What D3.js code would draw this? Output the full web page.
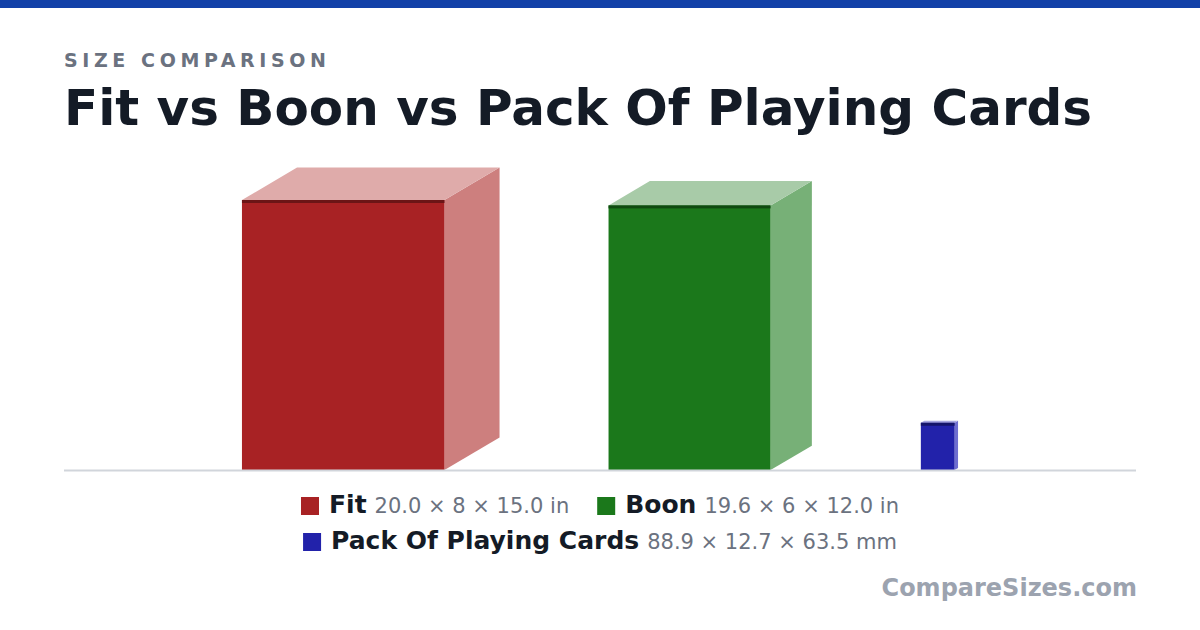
<!DOCTYPE html>
<html><head><meta charset="utf-8">
<script src="https://cdn.jsdelivr.net/npm/d3@7"></script>
<style>body{margin:0;background:#fff}svg{display:block;font-family:"DejaVu Sans",sans-serif}</style>
</head><body><svg id="chart" width="1200" height="630"></svg>
<script>
// items, sizes in inches (height, width, depth)
const names = ["Fit", "Boon", "Pack Of Playing Cards"];
const heights = [20.0, 19.6, 3.5];
const widths = [15.0, 12.0, 2.5];
const depths = [8.0, 6.0, 0.5];
const labels = ["20.0 × 8 × 15.0 in", "19.6 × 6 × 12.0 in", "88.9 × 12.7 × 63.5 mm"];
const colors = ["#a82224", "#1b781b", "#2222aa"];
const sides = ["#cd7f7e", "#77b077", "#6e6ed0"];
const tops = ["#dfabaa", "#a8cba8", "#a8a8e0"];
const edges = ["#6b1516", "#0f4a10", "#14146a"];

const svg = d3.select("#chart");
const baseY = 470, gap = 109;
const s = d3.scaleLinear().domain([0, 20]).range([0, 270]);

svg.append("rect").attr("width", 1200).attr("height", 8).attr("fill", "#1241a8");
svg.append("text").attr("x", 64).attr("y", 67).text("SIZE COMPARISON")
  .attr("font-size", 19).attr("font-weight", "bold").attr("letter-spacing", 4.6).attr("fill", "#6b7280");
svg.append("text").attr("x", 64).attr("y", 125).text("Fit vs Boon vs Pack Of Playing Cards")
  .attr("font-size", 50).attr("font-weight", "bold").attr("fill", "#141b26");

// layout: boxes packed with fixed gap, centred
const dx = d => s(d) * 0.51, dy = d => s(d) * 0.3;
const spans = widths.map((w, i) => s(w) + dx(depths[i]));
const total = d3.sum(spans) + gap * (names.length - 1);
let x0 = 600 - total / 2;
const xs = spans.map(sp => { const x = x0; x0 += sp + gap; return x; });

names.forEach((n, i) => {
  const x = xs[i], w = s(widths[i]), h = s(heights[i]), ox = dx(depths[i]), oy = dy(depths[i]);
  const t = baseY - h;
  const g = svg.append("g");
  g.append("path").attr("fill", sides[i])
    .attr("d", `M${x + w},${t}L${x + w + ox},${t - oy}L${x + w + ox},${baseY - oy}L${x + w},${baseY}Z`);
  g.append("path").attr("fill", tops[i])
    .attr("d", `M${x},${t}L${x + ox},${t - oy}L${x + w + ox},${t - oy}L${x + w},${t}Z`);
  g.append("rect").attr("x", x).attr("y", t).attr("width", w).attr("height", h).attr("fill", colors[i]);
  g.append("rect").attr("x", x).attr("y", t).attr("width", w).attr("height", 3).attr("fill", edges[i]);
});

svg.append("line").attr("x1", 64).attr("x2", 1136).attr("y1", baseY + 0.5).attr("y2", baseY + 0.5)
  .attr("stroke", "#d1d5db").attr("stroke-width", 2);

// legend rows
const rows = [[0, 1], [2]];
rows.forEach((r, ri) => {
  const y = 513 + ri * 36;
  const g = svg.append("g");
  let cx = 0;
  r.forEach(i => {
    g.append("rect").attr("x", cx).attr("y", y - 16).attr("width", 18).attr("height", 18).attr("fill", colors[i]);
    const nt = g.append("text").attr("x", cx + 28).attr("y", y).text(names[i])
      .attr("font-size", 25).attr("font-weight", "bold").attr("fill", "#141b26");
    cx += 28 + nt.node().getComputedTextLength() + 8;
    const lt = g.append("text").attr("x", cx).attr("y", y).text(labels[i])
      .attr("font-size", 21).attr("fill", "#6b7280");
    cx += lt.node().getComputedTextLength() + 28;
  });
  const wdt = cx - 28;
  g.attr("transform", `translate(${600 - wdt / 2},0)`);
});

svg.append("text").attr("x", 1137).attr("y", 596).attr("text-anchor", "end").text("CompareSizes.com")
  .attr("font-size", 24).attr("font-weight", "bold").attr("fill", "#9ca3af");
</script></body></html>
